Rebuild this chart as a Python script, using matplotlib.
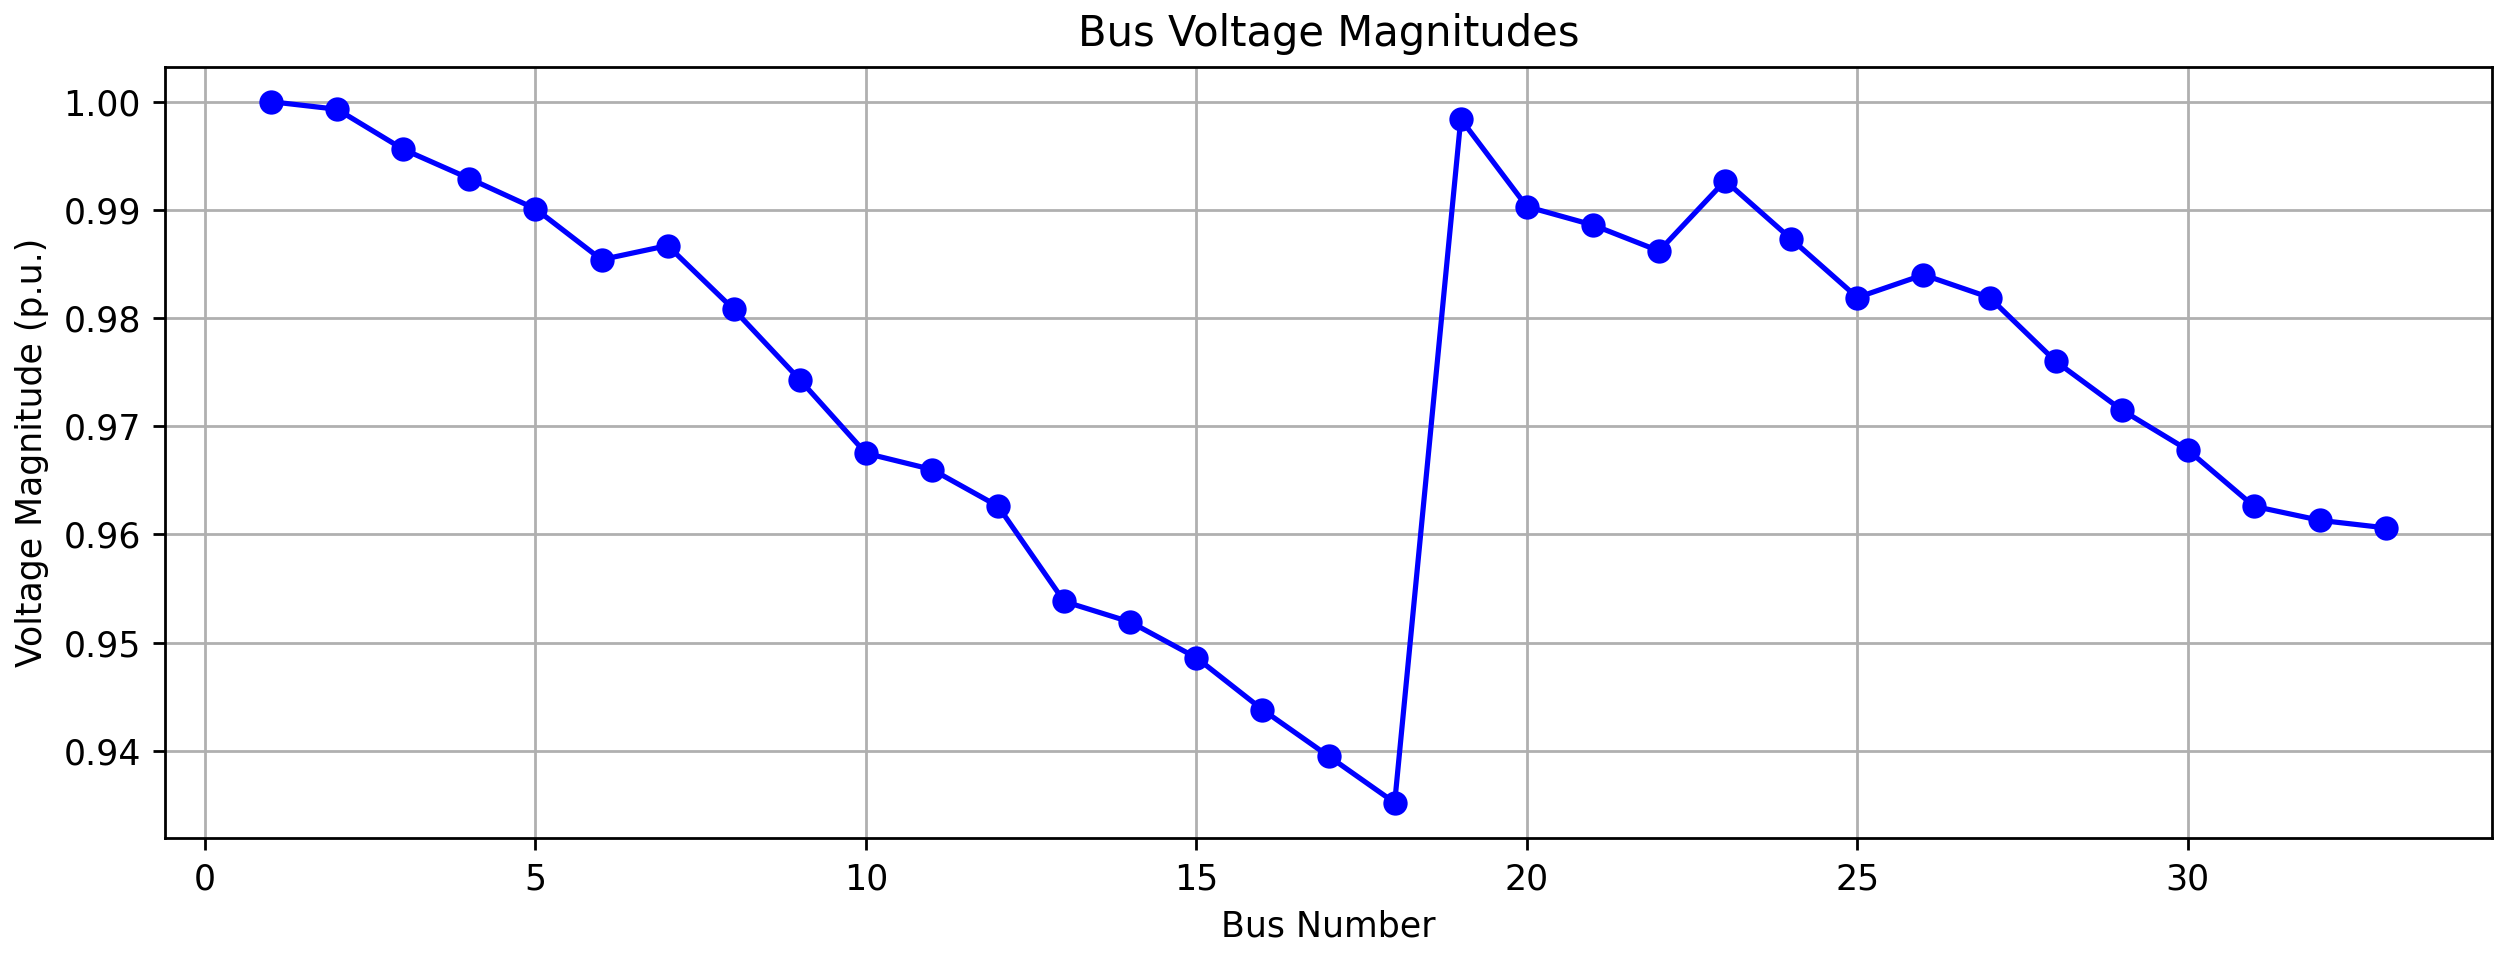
import numpy as np
import matplotlib
matplotlib.use("Agg")
import matplotlib.pyplot as plt

bus = list(range(1, 34))

voltage = [1.0000, 0.9993, 0.9956, 0.9929, 0.9901, 0.9854, 0.9867, 0.9808,
           0.9743, 0.9675, 0.9660, 0.9626, 0.9538, 0.9519, 0.9486, 0.9438,
           0.9395, 0.9352, 0.9984, 0.9903, 0.9886, 0.9862, 0.9927, 0.9873,
           0.9819, 0.9840, 0.9819, 0.9760, 0.9715, 0.9678, 0.9626, 0.9613,
           0.9606]

fig = plt.figure(figsize=(2512 / 250, 955 / 250), dpi=250)
ax = fig.add_axes([0.0658, 0.1228, 0.9262, 0.8074])

ax.plot(bus, voltage, marker='o', color='b', linestyle='-')

ax.set_title("Bus Voltage Magnitudes")
ax.set_xlabel("Bus Number")
ax.set_ylabel("Voltage Magnitude (p.u.)")
ax.grid(True)

fig.savefig("out.png", dpi=250)
